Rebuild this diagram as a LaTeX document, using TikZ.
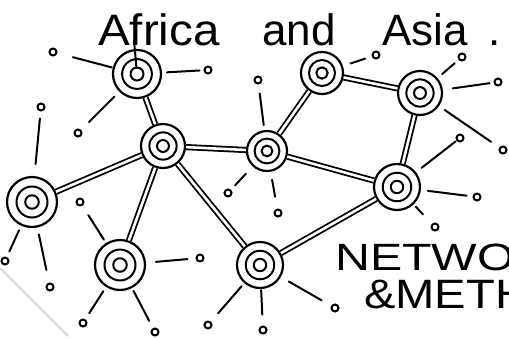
\documentclass[tikz,border=0pt]{standalone}
\usepackage{fontspec}
\setmainfont{Liberation Sans}
\begin{document}
\begin{tikzpicture}[x=1pt,y=-1pt,
  hub/.style={circle, draw, line width=2.2pt, minimum size=#1, inner sep=0pt},
  ring/.style={line width=2pt},
  edge/.style={draw, line width=1.8pt, double=white, double distance=2.6pt},
  leaf/.style={circle, draw, line width=2pt, minimum size=7pt, inner sep=0pt},
  spoke/.style={line width=2pt, line cap=round},
  hand/.style={inner sep=0pt, anchor=base west}]
\useasboundingbox (0,0) rectangle (509,338);
\clip (0,0) rectangle (509,338);
% paper shadow
\draw[gray!25, line width=2.5pt] (0,268) -- (68,336);
% hubs
\node[hub=48pt] (A) at (137,74) {};
\node[hub=44pt] (B) at (163,146) {};
\node[hub=50pt] (C) at (32,202) {};
\node[hub=50pt] (D) at (120,265) {};
\node[hub=40pt] (E) at (267,151) {};
\node[hub=42pt] (F) at (322,73) {};
\node[hub=44pt] (G) at (420,93) {};
\node[hub=46pt] (H) at (397,187) {};
\node[hub=46pt] (I) at (260,265) {};
\foreach \n/\r in {A/24,B/22,C/25,D/25,E/20,F/21,G/22,H/23,I/23}{
  \draw[ring] (\n.center) circle ({0.62*\r*1pt});
  \draw[ring] (\n.center) circle ({0.27*\r*1pt});
}
% network edges
\draw[edge] (A) -- (B);
\draw[edge] (B) -- (C);
\draw[edge] (B) -- (D);
\draw[edge] (B) -- (E);
\draw[edge] (B) -- (I);
\draw[edge] (E) -- (F);
\draw[edge] (F) -- (G);
\draw[edge] (G) -- (H);
\draw[edge] (E) -- (H);
\draw[edge] (H) -- (I);
% leaves
\node[leaf] (a1) at (53,52) {};
\node[leaf] (a2) at (208,70) {};
\node[leaf] (a3) at (78,133) {};
\node[leaf] (c1) at (41,107) {};
\node[leaf] (c2) at (5,261) {};
\node[leaf] (c3) at (50,287) {};
\node[leaf] (d1) at (80,202) {};
\node[leaf] (d2) at (200,258) {};
\node[leaf] (d3) at (83,323) {};
\node[leaf] (d4) at (155,332) {};
\node[leaf] (e1) at (258,80) {};
\node[leaf] (e2) at (228,193) {};
\node[leaf] (e3) at (278,213) {};
\node[leaf] (f1) at (376,55) {};
\node[leaf] (g1) at (462,57) {};
\node[leaf] (g2) at (498,82) {};
\node[leaf] (g3) at (503,150) {};
\node[leaf] (h1) at (460,138) {};
\node[leaf] (h2) at (477,197) {};
\node[leaf] (h3) at (435,227) {};
\node[leaf] (i2) at (208,325) {};
\node[leaf] (i3) at (263,330) {};
\node[leaf] (i4) at (335,308) {};
% spokes
\draw[spoke, shorten <=1pt, shorten >=16pt] (A) -- (a1);
\draw[spoke, shorten <=5pt, shorten >=4pt] (A) -- (a2);
\draw[spoke, shorten <=7pt, shorten >=11pt] (A) -- (a3);
\draw[spoke, shorten <=12pt, shorten >=7pt] (C) -- (c1);
\draw[spoke, shorten <=5pt, shorten >=6pt] (C) -- (c2);
\draw[spoke, shorten <=7pt, shorten >=13pt] (C) -- (c3);
\draw[spoke, shorten <=4pt, shorten >=11pt] (D) -- (d1);
\draw[spoke, shorten <=10pt, shorten >=8pt] (D) -- (d2);
\draw[spoke, shorten <=5pt, shorten >=7pt] (D) -- (d3);
\draw[spoke, shorten <=3pt, shorten >=8pt] (D) -- (d4);
\draw[spoke, shorten <=5pt, shorten >=9pt] (E) -- (e1);
\draw[spoke, shorten <=10pt, shorten >=6pt] (E) -- (e2);
\draw[spoke, shorten <=8pt, shorten >=12pt] (E) -- (e3);
\draw[spoke, shorten <=8pt, shorten >=7pt] (F) -- (f1);
\draw[spoke, shorten <=6pt, shorten >=5pt] (G) -- (g1);
\draw[spoke, shorten <=10pt, shorten >=4pt] (G) -- (g2);
\draw[spoke, shorten <=7pt, shorten >=10pt] (G) -- (g3);
\draw[spoke, shorten <=7pt, shorten >=1pt] (H) -- (h1);
\draw[spoke, shorten <=7pt, shorten >=6pt] (H) -- (h2);
\draw[spoke, shorten <=3pt, shorten >=13pt] (H) -- (h3);
\draw[spoke, shorten <=4pt, shorten >=11pt] (I) -- (i2);
\draw[spoke, shorten <=1pt, shorten >=11pt] (I) -- (i3);
\draw[spoke, shorten <=9pt, shorten >=11pt] (I) -- (i4);
% stem of the f reaching into hub A
\coordinate (fstem) at (134,40);
\draw[spoke, shorten >=6pt] (fstem) -- (A.center);
% texts
\node[hand] (t1) at (98,45) {\fontsize{44}{44}\selectfont\scalebox{1.08}[1]{Africa}};
\node[hand] (t2) at (262,45) {\fontsize{44}{44}\selectfont and};
\node[hand] (t3) at (382,45) {\fontsize{44}{44}\selectfont Asia};
\node[hand] (t4) at (488,45) {\fontsize{44}{44}\selectfont .};
\node[hand] (t5) at (335,270) {\fontsize{38}{38}\selectfont\scalebox{1.27}[1]{NETWO}};
\node[hand] (t6) at (364,308) {\fontsize{41}{41}\selectfont\scalebox{1.15}[1]{\&METH}};
\end{tikzpicture}
\end{document}
